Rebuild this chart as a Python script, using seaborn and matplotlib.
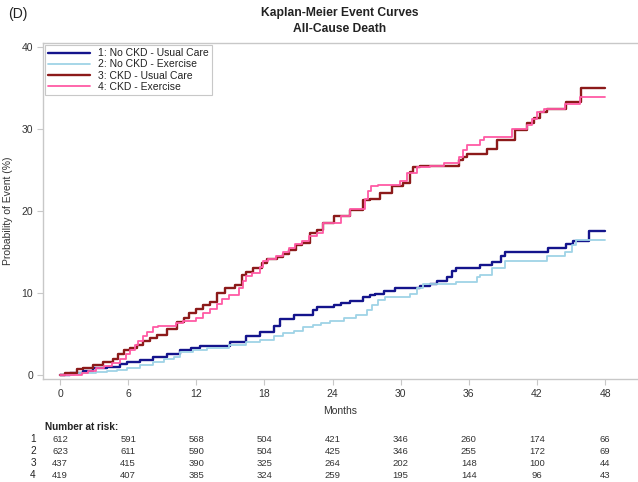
import matplotlib
matplotlib.use("Agg")
import matplotlib.pyplot as plt
from matplotlib.transforms import blended_transform_factory
import pandas as pd
import seaborn as sns

# Kaplan-Meier cumulative event probability (%) by month, step breakpoints
ncku_t = [0, 0.9, 1.2, 2.0, 2.9, 4.1, 5.3, 5.9, 7.0, 8.2,
          9.4, 10.6, 11.5, 12.3, 15.0, 16.4, 17.6, 18.8, 19.4, 20.6,
          22.3, 22.6, 24.1, 24.7, 25.5, 26.7, 27.3, 27.7, 28.5, 28.9,
          29.5, 31.7, 32.6, 33.2, 34.1, 34.5, 34.9, 37.0, 38.0, 38.8,
          39.2, 43.0, 44.6, 45.2, 46.6, 48.0]
ncku_v = [0, 0.2, 0.3, 0.5, 0.8, 1.0, 1.3, 1.6, 1.8, 2.2,
          2.5, 3.0, 3.3, 3.5, 4.0, 4.7, 5.3, 6.0, 6.8, 7.3,
          7.9, 8.3, 8.5, 8.8, 9.0, 9.5, 9.8, 9.9, 10.2, 10.3,
          10.6, 10.8, 11.1, 11.5, 12.0, 12.7, 13.0, 13.4, 13.8, 14.5,
          15.0, 15.5, 16.0, 16.4, 17.5, 17.5]

ncke_t = [0, 1.2, 2.3, 3.2, 4.1, 5.0, 5.9, 7.0, 8.2, 9.2,
          10.0, 10.6, 11.7, 12.9, 14.9, 16.4, 17.6, 18.8, 19.6, 20.6,
          21.4, 22.3, 23.0, 23.8, 25.0, 26.1, 27.0, 27.5, 28.0, 28.6,
          30.8, 31.4, 32.0, 34.9, 36.7, 37.0, 38.0, 39.2, 42.9, 44.5,
          45.1, 45.4, 48.0]
ncke_v = [0, 0.2, 0.3, 0.4, 0.5, 0.6, 0.8, 1.2, 1.6, 1.9,
          2.2, 2.8, 3.1, 3.3, 3.6, 4.0, 4.3, 4.8, 5.1, 5.4,
          5.8, 6.1, 6.3, 6.6, 6.9, 7.3, 7.9, 8.5, 9.1, 9.5,
          9.9, 10.6, 11.1, 11.4, 12.0, 12.2, 13.0, 13.9, 14.5, 15.0,
          15.8, 16.5, 16.5]

cku_t = [0, 0.45, 1.5, 2.0, 2.9, 3.8, 4.7, 5.1, 5.6, 6.2,
         6.8, 7.3, 7.9, 8.5, 9.4, 10.3, 10.9, 11.4, 12.0, 12.6,
         13.2, 13.8, 14.5, 15.4, 16.0, 16.4, 17.0, 17.8, 18.2, 19.1,
         19.6, 20.2, 20.8, 21.3, 22.0, 22.6, 23.2, 24.1, 25.5, 26.7,
         27.3, 28.2, 29.2, 30.2, 30.8, 31.1, 31.7, 35.1, 35.5, 35.8,
         37.6, 38.5, 40.1, 41.1, 41.7, 42.3, 42.9, 44.6, 45.9, 48.0]
cku_v = [0, 0.3, 0.7, 0.9, 1.2, 1.6, 2.0, 2.5, 3.1, 3.3,
         3.7, 4.1, 4.5, 4.9, 5.6, 6.5, 6.9, 7.5, 8.0, 8.5,
         8.9, 10.0, 10.6, 11.0, 12.2, 12.6, 13.0, 13.6, 14.1, 14.4,
         14.8, 15.3, 15.8, 16.1, 17.3, 17.7, 18.5, 19.4, 20.1, 21.3,
         21.5, 22.2, 23.0, 23.4, 24.8, 25.4, 25.5, 26.2, 26.6, 27.0,
         27.6, 28.7, 29.9, 30.7, 31.4, 32.1, 32.4, 33.3, 35.0, 35.0]

cke_t = [0, 1.9, 2.5, 3.2, 3.9, 4.6, 5.3, 5.8, 6.2, 6.6,
         6.9, 7.3, 7.7, 8.2, 8.6, 10.2, 10.8, 12.0, 12.6, 13.2,
         13.8, 14.3, 14.9, 15.8, 16.1, 16.4, 16.9, 17.6, 17.9, 18.3,
         19.0, 19.6, 20.2, 20.7, 21.3, 21.9, 22.6, 23.2, 24.7, 25.5,
         26.9, 27.1, 27.4, 28.0, 29.9, 30.6, 31.4, 32.6, 33.8, 35.1,
         35.5, 35.8, 37.0, 37.3, 39.8, 41.1, 41.6, 42.0, 42.6, 44.5,
         45.8, 48.0]
cke_v = [0, 0.3, 0.5, 0.8, 1.1, 1.5, 1.9, 2.5, 3.1, 3.6,
         4.2, 4.8, 5.3, 5.8, 6.0, 6.4, 6.6, 7.0, 7.6, 8.0,
         8.6, 9.3, 9.8, 10.6, 11.5, 12.1, 12.4, 13.2, 13.9, 14.2,
         14.5, 15.0, 15.5, 16.0, 16.4, 16.9, 17.3, 18.5, 19.4, 20.3,
         21.5, 22.4, 23.0, 23.2, 23.6, 24.6, 25.4, 25.5, 25.9, 26.6,
         27.4, 28.0, 28.7, 29.0, 30.0, 30.5, 31.2, 32.1, 32.4, 33.1,
         33.9, 33.9]

groups = ["1: No CKD - Usual Care", "2: No CKD - Exercise",
          "3: CKD - Usual Care", "4: CKD - Exercise"]
colors = ["#14148c", "#9fd3e6", "#8c1a1a", "#ff5aa5"]
widths = [1.7, 1.3, 1.7, 1.3]

risk_months = [0, 6, 12, 18, 24, 30, 36, 42, 48]
risk_1 = [612, 591, 568, 504, 421, 346, 260, 174, 66]
risk_2 = [623, 611, 590, 504, 425, 346, 255, 172, 69]
risk_3 = [437, 415, 390, 325, 264, 202, 148, 100, 44]
risk_4 = [419, 407, 385, 324, 259, 195, 144, 96, 43]

df = pd.concat([
    pd.DataFrame({"Months": t, "Prob": v, "Group": g})
    for g, t, v in zip(groups,
                       [ncku_t, ncke_t, cku_t, cke_t],
                       [ncku_v, ncke_v, cku_v, cke_v])
], ignore_index=True)

sns.set_theme(style="white")
plt.rcParams["font.family"] = ["Liberation Sans", "DejaVu Sans"]

W, H = 638, 482
fig = plt.figure(figsize=(W / 100, H / 100), dpi=100)
ax = fig.add_axes([43 / W, 1 - 379 / H, 1 - 43 / W, 336 / H])

for g, c, lw in zip(groups, colors, widths):
    sns.lineplot(data=df[df["Group"] == g], x="Months", y="Prob",
                 color=c, linewidth=lw, drawstyle="steps-post",
                 estimator=None, ax=ax, label=g)

ax.set_xlim(-1.5, 50.9)
ax.set_ylim(-0.49, 40.49)
ax.set_xticks(range(0, 49, 6))
ax.set_yticks(range(0, 41, 10))

spine_col = "#c8c8c8"
for side in ["left", "bottom", "top"]:
    ax.spines[side].set_color(spine_col)
    ax.spines[side].set_linewidth(1.0)
ax.spines["right"].set_visible(False)
ax.tick_params(axis="both", which="major", length=4, width=0.8,
               color=spine_col, labelsize=7.5, labelcolor="#333333",
               direction="out", pad=3)
ax.tick_params(axis="x", bottom=True)
ax.tick_params(axis="y", left=True)

ax.set_xlabel("Months", fontsize=7.5, color="#333333", labelpad=5)
ax.set_ylabel("Probability of Event (%)", fontsize=7.5, color="#333333")
ax.yaxis.set_label_coords((13 - 43) / (W - 43), 0.5)

leg = ax.legend(loc="upper left", fontsize=7.5, frameon=True,
                fancybox=False, edgecolor=spine_col, framealpha=1,
                borderaxespad=0.2, borderpad=0.3, handlelength=4.0,
                handletextpad=0.8, labelspacing=0.12)
leg.get_frame().set_linewidth(0.8)
for txt in leg.get_texts():
    txt.set_color("#222222")

fig.text(340 / W, 1 - 13 / H, "Kaplan-Meier Event Curves",
         ha="center", va="center", fontsize=8.7, fontweight="bold",
         color="#222222")
fig.text(340 / W, 1 - 29 / H, "All-Cause Death",
         ha="center", va="center", fontsize=8.7, fontweight="bold",
         color="#222222")
fig.text(8 / W, 1 - 14 / H, "(D)", ha="left", va="center", fontsize=10,
         color="#222222")

# number-at-risk table under the x axis
trans = blended_transform_factory(ax.transData, fig.transFigure)
fig.text(45 / W, 1 - 427 / H, "Number at risk:", ha="left", va="center",
         fontsize=7.2, fontweight="bold", color="#222222")
rows = [risk_1, risk_2, risk_3, risk_4]
row_y = [439, 451, 463, 475]
for i, (vals, ypx) in enumerate(zip(rows, row_y)):
    fig.text(33 / W, 1 - ypx / H, str(i + 1), ha="center", va="center",
             fontsize=7.2, color="#222222")
    for m, n in zip(risk_months, vals):
        ax.text(m, 1 - ypx / H, str(n), transform=trans, ha="center",
                va="center", fontsize=6.8, color="#333333")

fig.savefig("out.png", dpi=100)
